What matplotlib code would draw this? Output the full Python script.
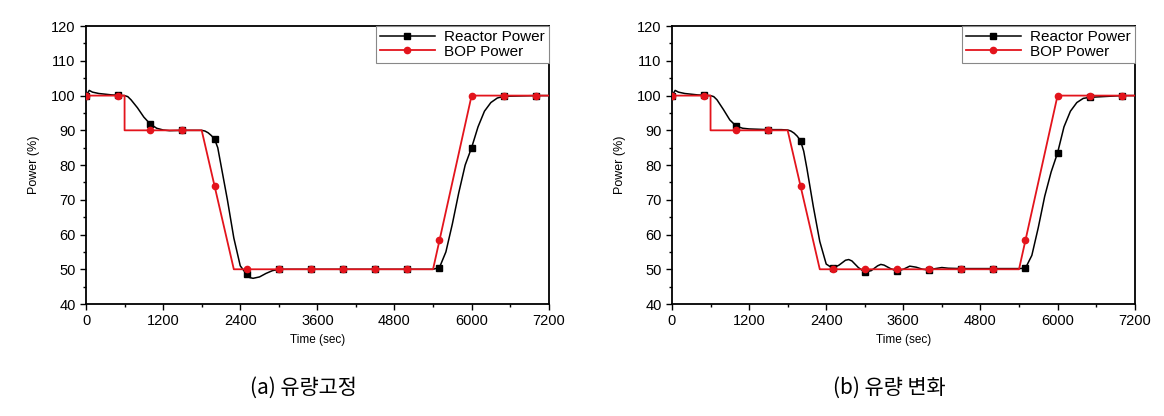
import numpy as np
import matplotlib
matplotlib.use('Agg')
import matplotlib.pyplot as plt

plt.rcParams['font.family'] = ['Liberation Sans', 'DejaVu Sans']

## data
# BOP power (setpoint), same in both cases
bop_t = [0, 500, 600, 600, 1000, 1500, 1800, 2000, 2300, 2500, 3000, 3500,
         4000, 4500, 5000, 5400, 5500, 6000, 6500, 7000, 7200]
bop_p = [100, 100, 100, 90, 90, 90, 90, 74, 50, 50, 50, 50,
         50, 50, 50, 50, 58.3, 100, 100, 100, 100]

# reactor power, (a) constant flow
rx_a_t = [0, 50, 100, 200, 300, 400, 500, 600, 650, 700, 800, 900, 1000,
          1100, 1200, 1300, 1500, 1700, 1800, 1850, 1900, 1950, 2000, 2050,
          2100, 2200, 2300, 2400, 2500, 2550, 2600, 2700, 2800, 2900, 3000,
          3500, 4000, 4500, 5000, 5400, 5500, 5600, 5700, 5800, 5900, 6000,
          6100, 6200, 6300, 6400, 6500, 7000, 7200]
rx_a_p = [100, 101.5, 101, 100.6, 100.4, 100.2, 100.1, 100, 99.7, 98.8, 96.5,
          93.8, 91.8, 90.6, 90.1, 89.9, 90, 90, 90, 89.8, 89.3, 88.5, 87.5,
          85, 80, 70, 59, 51, 48.5, 47.6, 47.4, 47.8, 48.8, 49.6, 50,
          50, 50, 50, 50, 50, 50.5, 55, 63, 72, 80, 85,
          91, 95.5, 98, 99.3, 99.8, 100, 100]

# reactor power, (b) variable flow
rx_b_t = [0, 50, 100, 200, 300, 400, 500, 600, 650, 700, 800, 900, 1000,
          1100, 1200, 1500, 1700, 1800, 1850, 1900, 1950, 2000, 2050, 2100,
          2200, 2300, 2400, 2500, 2600, 2700, 2750, 2800, 2900, 3000, 3100,
          3200, 3250, 3300, 3400, 3500, 3600, 3700, 3800, 3900, 4000, 4100,
          4200, 4300, 4500, 5000, 5400, 5500, 5600, 5700, 5800, 5900, 6000,
          6100, 6200, 6300, 6400, 6500, 7000, 7200]
rx_b_p = [100, 101.5, 101, 100.6, 100.4, 100.2, 100.1, 100, 99.7, 98.8, 96,
          93, 91.2, 90.6, 90.4, 90.2, 90.2, 90.1, 89.8, 89.2, 88.3, 87,
          84, 79, 68, 58, 51.5, 50.3, 51.2, 52.6, 52.8, 52.4, 50.5, 49.2, 49.6,
          51, 51.4, 51.2, 50.2, 49.5, 50, 50.9, 50.6, 50, 49.8, 50.2,
          50.5, 50.3, 50.2, 50.2, 50.2, 50.3, 54, 62, 71, 78, 83.5,
          91, 95.5, 98, 99.2, 99.5, 100, 100]

captions = ['(a) 유량고정', '(b) 유량 변화']
red = '#e3141c'


def marks(t):
    # markers sit every 500 s
    return [i for i, v in enumerate(t) if v % 500 == 0 and v <= 7000
            and (i == 0 or t[i - 1] != v)]


fig = plt.figure(figsize=(11.64, 4.16), dpi=100)
lefts = [0.0739, 0.5773]
for k, (rt, rp) in enumerate([(rx_a_t, rx_a_p), (rx_b_t, rx_b_p)]):
    ax = fig.add_axes([lefts[k], 0.2692, 0.3975, 0.668])
    ax.plot(rt, rp, color='black', lw=1.1, marker='s', ms=4,
            markevery=marks(rt), label='Reactor Power', zorder=2)
    ax.plot(bop_t, bop_p, color=red, lw=1.3, marker='o', ms=4.5,
            markevery=marks(bop_t), label='BOP Power', zorder=3)

    ax.set_xlim(0, 7200)
    ax.set_ylim(40, 120)
    ax.set_xticks(np.arange(0, 7201, 1200))
    ax.set_xticks(np.arange(0, 7201, 600), minor=True)
    ax.set_yticks(np.arange(40, 121, 10))
    ax.set_yticks(np.arange(40, 121, 5), minor=True)
    ax.tick_params(which='both', direction='out', top=False, right=False,
                   labelsize=10.5, width=1)
    ax.tick_params(which='major', length=4)
    ax.tick_params(which='minor', length=2.5)
    for s in ax.spines.values():
        s.set_linewidth(1.3)

    ax.set_xlabel('Time (sec)', fontsize=8.5, labelpad=4)
    ax.set_ylabel('Power (%)', fontsize=9, labelpad=8)

    # legend box glued to the upper right corner
    leg = ax.legend(loc='upper right', bbox_to_anchor=(1, 1),
                    borderaxespad=0, fancybox=False, framealpha=1,
                    edgecolor='#888888', fontsize=11, handlelength=3.6,
                    borderpad=0.25, labelspacing=0.05, handletextpad=0.6)
    leg.get_frame().set_linewidth(0.8)

    ax.text(0.47, -0.3, captions[k], transform=ax.transAxes,
            ha='center', va='center', fontsize=15,
            family=['Noto Sans CJK KR', 'DejaVu Sans'])

fig.savefig('out.png', dpi=100)
